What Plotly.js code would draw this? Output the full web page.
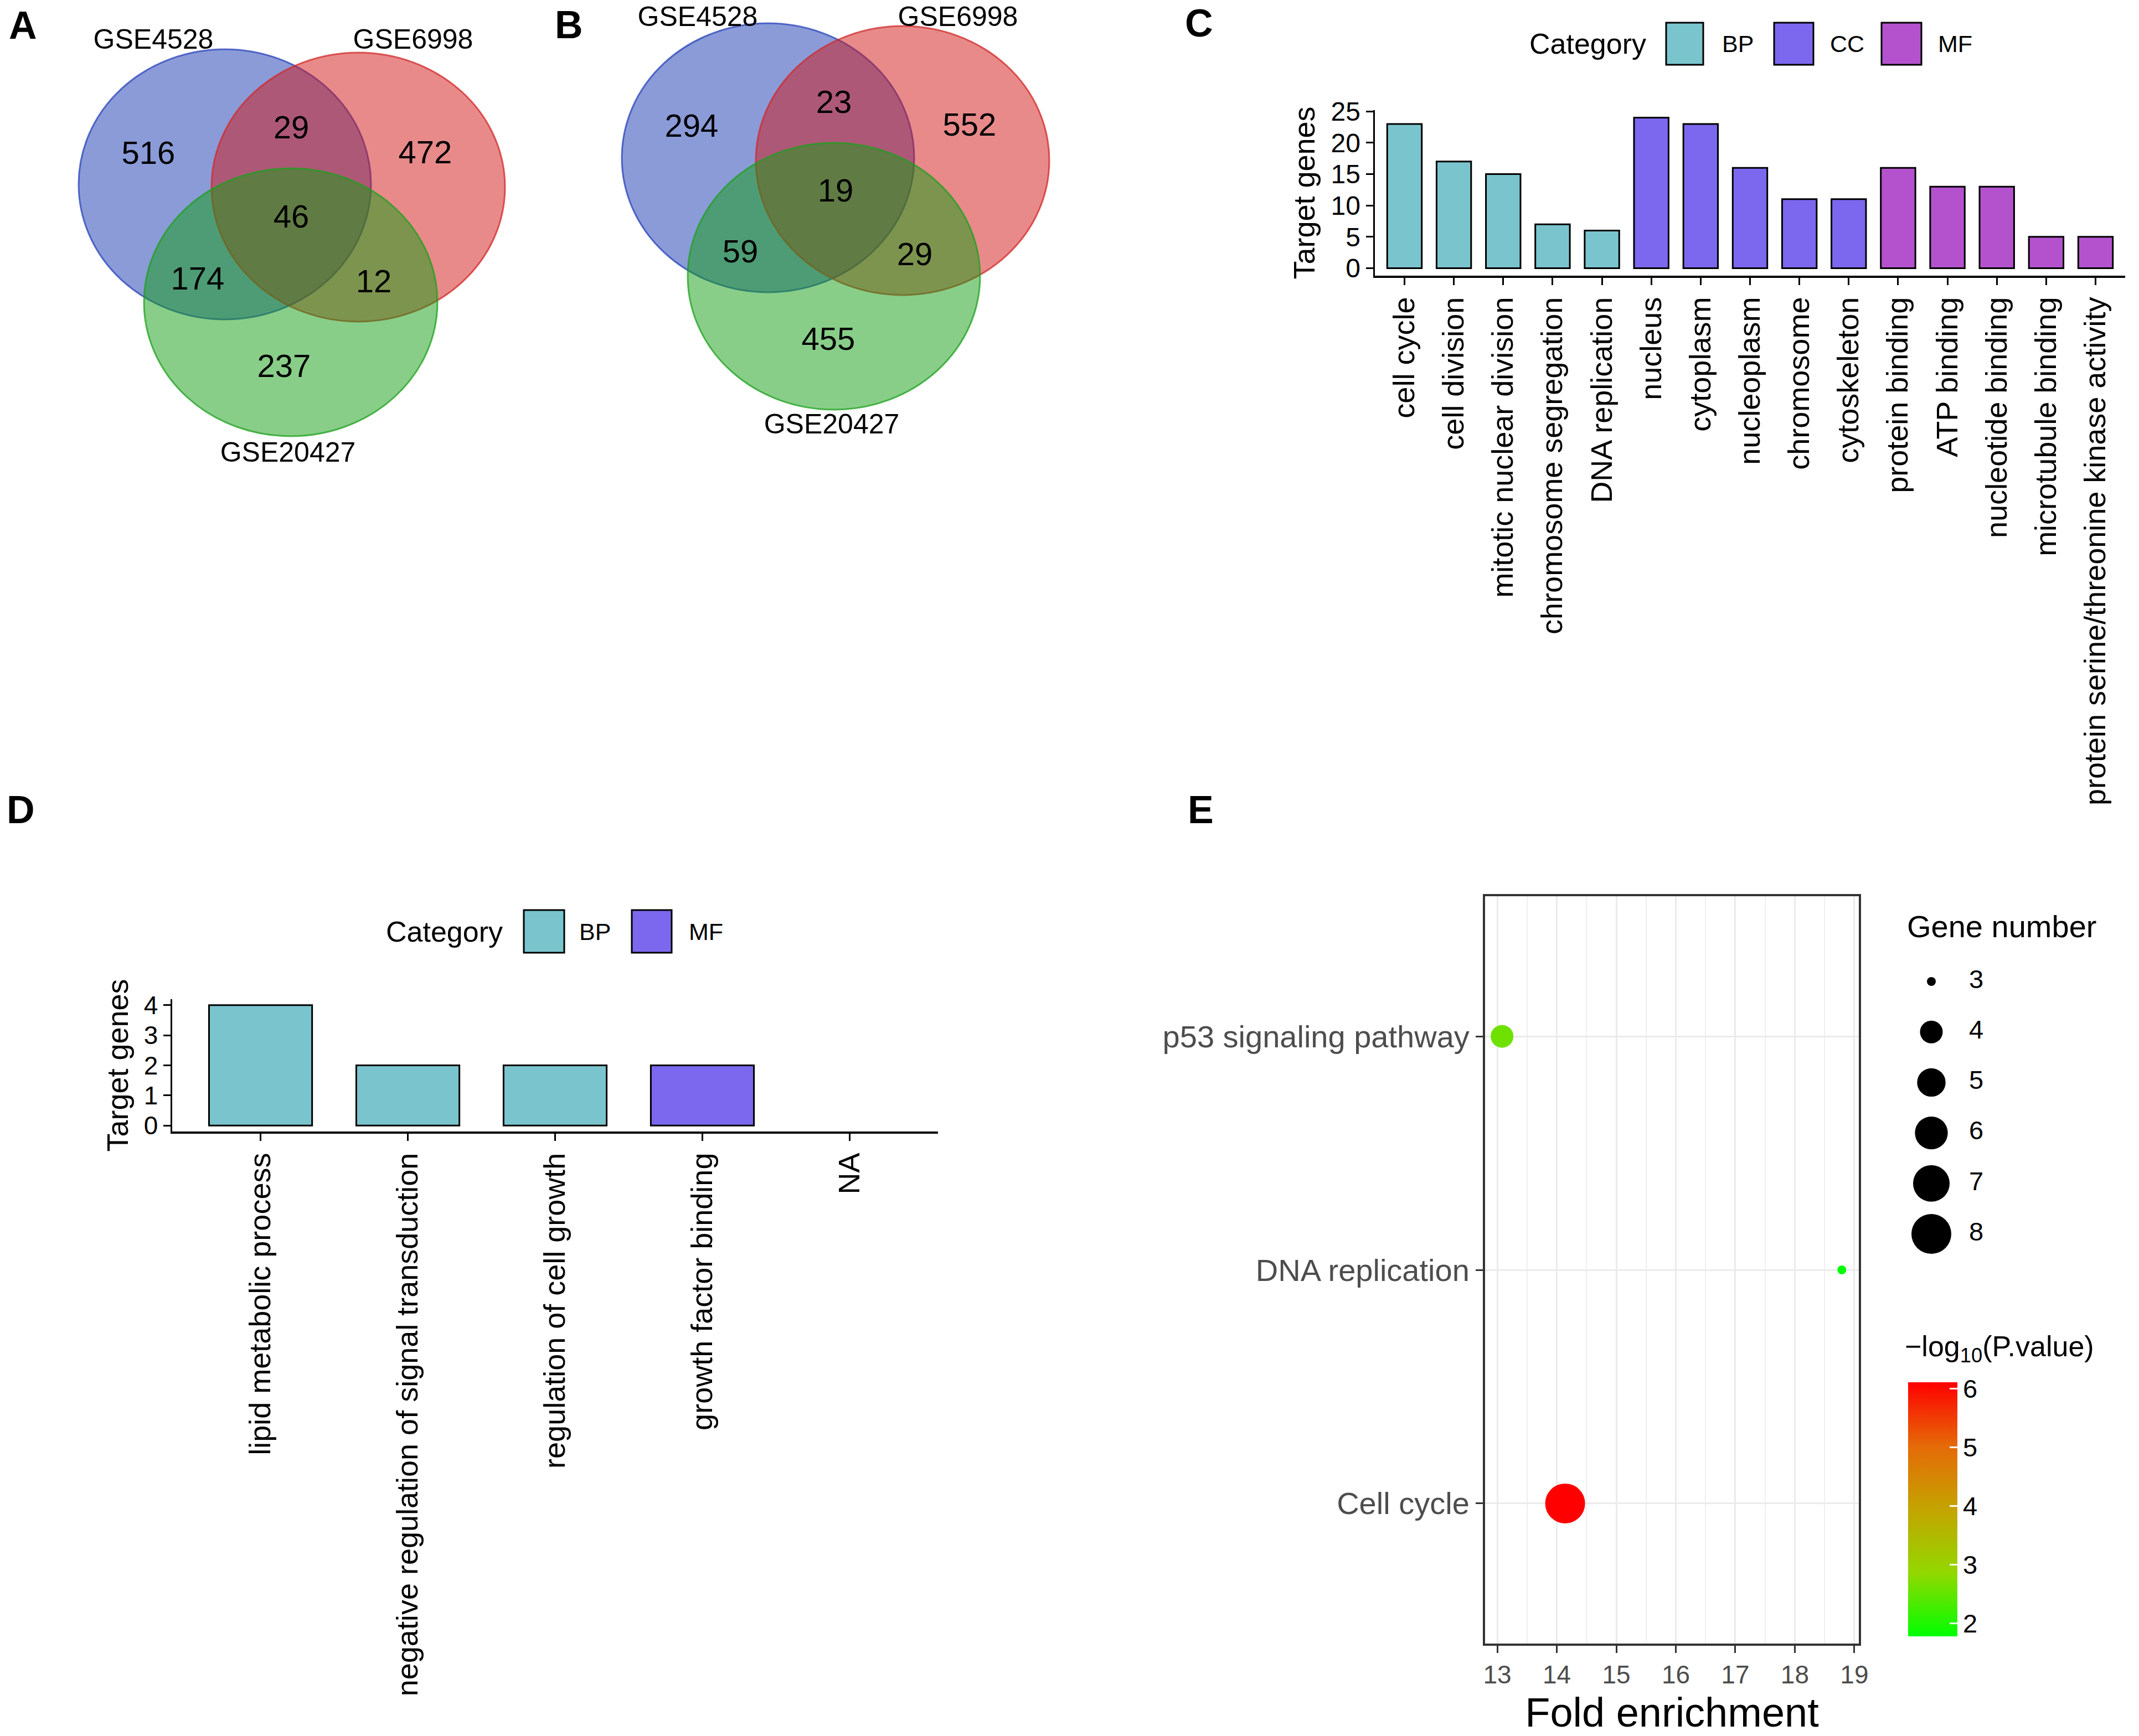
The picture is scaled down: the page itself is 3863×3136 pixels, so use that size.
<!DOCTYPE html>
<html>
<head>
<meta charset="utf-8">
<script src="https://cdn.plot.ly/plotly-3.0.1.min.js"></script>
<style>
html,body{margin:0;padding:0;background:#ffffff;}
#chart{width:3863px;height:3136px;}
</style>
</head>
<body>
<div id="chart"></div>
<script>
// ---------------- DATA ----------------
// Venn diagrams: region counts, order = [only set1, only set2, only set3, 1&2, 1&3, 2&3, 1&2&3]
const setNames = ['GSE4528', 'GSE6998', 'GSE20427'];
const vennACounts = [516, 472, 237, 29, 174, 12, 46];
const vennBCounts = [294, 552, 455, 23, 59, 29, 19];

// Panel C: GO terms
const goTerms = ['cell cycle', 'cell division', 'mitotic nuclear division', 'chromosome segregation',
  'DNA replication', 'nucleus', 'cytoplasm', 'nucleoplasm', 'chromosome', 'cytoskeleton',
  'protein binding', 'ATP binding', 'nucleotide binding', 'microtubule binding',
  'protein serine/threonine kinase activity'];
const goCounts = [23, 17, 15, 7, 6, 24, 23, 16, 11, 11, 16, 13, 13, 5, 5];
const goCategory = ['BP', 'BP', 'BP', 'BP', 'BP', 'CC', 'CC', 'CC', 'CC', 'CC', 'MF', 'MF', 'MF', 'MF', 'MF'];

// Panel D: GO terms
const dTerms = ['lipid metabolic process', 'negative regulation of signal transduction',
  'regulation of cell growth', 'growth factor binding', 'NA'];
const dCounts = [4, 2, 2, 2, null];
const dCategory = ['BP', 'BP', 'BP', 'MF', null];

// Panel E: KEGG pathways
const keggTerms = ['Cell cycle', 'DNA replication', 'p53 signaling pathway'];
const keggFold = [14.14, 18.79, 13.08];
const keggGenes = [8, 3, 4];
const keggLogP = [6.11, 1.78, 2.6];
const sizeBreaks = [3, 4, 5, 6, 7, 8];
const colorTicks = [2, 3, 4, 5, 6];

// ---------------- STYLE / LAYOUT ----------------
const W = 3863, H = 3136;
const FONT = '"Liberation Sans", Arial, Helvetica, sans-serif';
const palette = ['#7AC5CD', '#7B68EE', '#B452CD'];
const dx = (a, b) => [a / W, b / W];
const dy = (top, bottom) => [1 - bottom / H, 1 - top / H];
const px = x => x / W;
const py = y => 1 - y / H;

function levels(arr) { const out = []; arr.forEach(v => { if (v !== null && out.indexOf(v) < 0) out.push(v); }); return out; }
const cLevels = levels(goCategory);
const dLevels = levels(dCategory);
const colorOf = (lv, c) => c === null ? 'rgba(0,0,0,0)' : palette[lv.indexOf(c)];

// size scale (area palette like ggplot2)
const dMin = 16, dMax = 72;
const gMin = Math.min(...keggGenes), gMax = Math.max(...keggGenes);
const sizeScale = n => dMin + Math.sqrt((n - gMin) / (gMax - gMin)) * (dMax - dMin);

// Venn geometry (layout)
const vennGeom = {
  A: {
    circles: [[406, 333, 264, 244], [647, 338, 265, 243], [525, 546, 265, 242]],
    regions: [[268, 281], [768, 280], [513, 666], [526, 235], [357, 508], [675, 513], [526, 396]],
    names: [[277, 75], [746, 75], [520, 821]]
  },
  B: {
    circles: [[1387, 285, 264, 243], [1630, 290, 265, 243], [1506, 499, 264, 241]],
    regions: [[1249, 232], [1751, 230], [1496, 617], [1506, 189], [1337, 459], [1652, 464], [1509, 349]],
    names: [[1260, 34], [1730, 34], [1502, 770]]
  }
};
const vennFill = ['rgba(21,55,177,0.5)', 'rgba(209,21,21,0.5)', 'rgba(17,157,17,0.5)'];
const vennLine = ['rgba(40,65,185,0.75)', 'rgba(210,40,40,0.75)', 'rgba(30,160,30,0.75)'];

const traces = [];

// Panel C bars
traces.push({
  type: 'bar', x: goTerms, y: goCounts, width: 0.7,
  marker: { color: goCategory.map(c => colorOf(cLevels, c)), line: { color: '#000', width: 3 } },
  xaxis: 'x', yaxis: 'y', showlegend: false, hoverinfo: 'skip'
});
// Panel D bars
traces.push({
  type: 'bar', x: dTerms, y: dCounts, width: 0.7,
  marker: { color: dCategory.map(c => colorOf(dLevels, c)), line: { color: '#000', width: 3 } },
  xaxis: 'x2', yaxis: 'y2', showlegend: false, hoverinfo: 'skip'
});
// Panel E bubbles
const cMin = Math.min(...keggLogP), cMax = Math.max(...keggLogP);
traces.push({
  type: 'scatter', mode: 'markers', x: keggFold, y: keggTerms,
  marker: {
    size: keggGenes.map(sizeScale), color: keggLogP, cmin: cMin, cmax: cMax,
    colorscale: [[0, '#00FF00'], [0.25, '#93D800'], [0.5, '#C4A400'], [0.75, '#E56A08'], [1, '#FF0000']],
    line: { width: 0 }, opacity: 1, showscale: true,
    colorbar: {
      x: px(3446), xanchor: 'left', xref: 'paper', y: py(2497), yanchor: 'top', yref: 'paper',
      len: (2956 - 2497) / H, lenmode: 'fraction', thickness: 89, thicknessmode: 'pixels',
      xpad: 0, ypad: 0, outlinewidth: 0, tickvals: colorTicks,
      ticks: 'inside', ticklen: 14, tickwidth: 3, tickcolor: '#FFFFFF',
      tickfont: { family: FONT, size: 47, color: '#000' }
    }
  },
  xaxis: 'x3', yaxis: 'y3', showlegend: false, hoverinfo: 'skip', cliponaxis: false
});
// Size legend
traces.push({
  type: 'scatter', mode: 'markers', x: sizeBreaks.map(() => 48), y: sizeBreaks,
  marker: { size: sizeBreaks.map(sizeScale), color: '#000000', opacity: 1, line: { width: 0 } },
  xaxis: 'x4', yaxis: 'y4', showlegend: false, hoverinfo: 'skip', cliponaxis: false
});
traces.push({
  type: 'scatter', mode: 'text', x: sizeBreaks.map(() => 116), y: sizeBreaks,
  text: sizeBreaks.map(String), textposition: 'middle right',
  textfont: { family: FONT, size: 47, color: '#000' },
  xaxis: 'x4', yaxis: 'y4', showlegend: false, hoverinfo: 'skip', cliponaxis: false
});
// Venn counts and set names
[['A', vennACounts], ['B', vennBCounts]].forEach(([k, counts]) => {
  const g = vennGeom[k];
  traces.push({
    type: 'scatter', mode: 'text', x: g.regions.map(p => p[0]), y: g.regions.map(p => p[1]),
    text: counts.map(String), textposition: 'middle center',
    textfont: { family: FONT, size: 58, color: '#000' },
    xaxis: 'x5', yaxis: 'y5', showlegend: false, hoverinfo: 'skip', cliponaxis: false
  });
  traces.push({
    type: 'scatter', mode: 'text', x: g.names.map(p => p[0]), y: g.names.map(p => p[1]),
    text: setNames, textposition: 'middle center',
    textfont: { family: FONT, size: 50, color: '#000' },
    xaxis: 'x5', yaxis: 'y5', showlegend: false, hoverinfo: 'skip', cliponaxis: false
  });
});

// Shapes
const shapes = [];
['A', 'B'].forEach(k => {
  vennGeom[k].circles.forEach((c, i) => {
    shapes.push({
      type: 'circle', xref: 'x5', yref: 'y5', layer: 'below',
      x0: c[0] - c[2], x1: c[0] + c[2], y0: c[1] - c[3], y1: c[1] + c[3],
      fillcolor: vennFill[i], line: { color: vennLine[i], width: 3 }
    });
  });
});
// custom category legends
const legendBoxes = [
  { lv: cLevels, boxes: [[3009, 3076], [3204, 3275], [3398, 3470]], textX: [3108, 3303, 3498], y: [41, 117], titleRight: 2975 },
  { lv: dLevels, boxes: [[946, 1019], [1141, 1213]], textX: [1044, 1242], y: [1644, 1721], titleRight: 910 }
];
const annotations = [];
legendBoxes.forEach(L => {
  L.lv.forEach((lv, i) => {
    shapes.push({
      type: 'rect', xref: 'paper', yref: 'paper',
      x0: px(L.boxes[i][0]), x1: px(L.boxes[i][1]), y0: py(L.y[1]), y1: py(L.y[0]),
      fillcolor: palette[i], line: { color: '#000', width: 3 }
    });
    annotations.push({
      text: lv, x: px(L.textX[i]), y: py((L.y[0] + L.y[1]) / 2), xref: 'paper', yref: 'paper',
      xanchor: 'left', yanchor: 'middle', showarrow: false, font: { family: FONT, size: 43, color: '#000' }
    });
  });
  annotations.push({
    text: 'Category', x: px(L.titleRight), y: py((L.y[0] + L.y[1]) / 2), xref: 'paper', yref: 'paper',
    xanchor: 'right', yanchor: 'middle', showarrow: false, font: { family: FONT, size: 52, color: '#000' }
  });
});
// Gene number legend title
annotations.push({
  text: 'Gene number', x: px(3442), y: py(1673), xref: 'paper', yref: 'paper',
  xanchor: 'left', yanchor: 'middle', showarrow: false, font: { family: FONT, size: 56, color: '#000' }
});
// Colour bar title
annotations.push({
  text: '\u2212log<sub>10</sub>(P.value)', x: px(3438), y: py(2436), xref: 'paper', yref: 'paper',
  xanchor: 'left', yanchor: 'middle', showarrow: false, font: { family: FONT, size: 52, color: '#000' }
});
// Panel letters
[['A', 41, 46], ['B', 1027, 45], ['C', 2165, 42], ['D', 37, 1463], ['E', 2168, 1463]].forEach(([t, x, y]) => {
  annotations.push({
    text: '<b>' + t + '</b>', x: px(x), y: py(y), xref: 'paper', yref: 'paper',
    xanchor: 'center', yanchor: 'middle', showarrow: false, font: { family: FONT, size: 70, color: '#000' }
  });
});

// axis helpers
const classicX = (dom, anchor, cats) => ({
  domain: dom, anchor: anchor, type: 'category', categoryorder: 'array', categoryarray: cats,
  range: [-0.6, cats.length - 0.4], tickangle: -90, ticks: 'outside', ticklen: 13, tickwidth: 3,
  tickcolor: '#000', showline: true, linecolor: '#000', linewidth: 4, showgrid: false, zeroline: false,
  tickfont: { family: FONT, size: 54, color: '#000' }, fixedrange: true
});
const classicY = (dom, anchor, range, tv, tfs) => ({
  domain: dom, anchor: anchor, range: range, tickvals: tv, ticks: 'outside', ticklen: 13, tickwidth: 3,
  tickcolor: '#000', showline: true, linecolor: '#000', linewidth: 3.5, showgrid: false, zeroline: false,
  tickfont: { family: FONT, size: tfs, color: '#000' }, fixedrange: true,
  title: { text: 'Target genes', font: { family: FONT, size: 54, color: '#000' }, standoff: 12 }
});

const cMaxY = Math.max(...goCounts), dMaxY = Math.max(...dCounts.filter(v => v !== null));
const fSpan = Math.max(...keggFold) - Math.min(...keggFold);
const fRange = [Math.min(...keggFold) - 0.05 * fSpan, Math.max(...keggFold) + 0.05 * fSpan];

const layout = {
  width: W, height: H, margin: { l: 0, r: 0, t: 0, b: 0, pad: 0 },
  paper_bgcolor: '#ffffff', plot_bgcolor: 'rgba(0,0,0,0)', showlegend: false,
  font: { family: FONT, color: '#000' },
  xaxis: classicX(dx(2483, 3838), 'y', goTerms),
  yaxis: classicY(dy(199, 498), 'x', [-0.05 * cMaxY, 1.05 * cMaxY], [0, 5, 10, 15, 20, 25], 48),
  xaxis2: classicX(dx(311, 1694), 'y2', dTerms),
  yaxis2: classicY(dy(1805, 2044), 'x2', [-0.05 * dMaxY, 1.05 * dMaxY], [0, 1, 2, 3, 4], 46),
  xaxis3: {
    domain: dx(2682, 3357), anchor: 'y3', range: fRange, tick0: 13, dtick: 1,
    ticks: 'outside', ticklen: 13, tickwidth: 3, tickcolor: '#333333',
    showline: true, mirror: true, linecolor: '#333333', linewidth: 4,
    showgrid: true, gridcolor: '#EBEBEB', gridwidth: 3, zeroline: false,
    minor: { tick0: 12.5, dtick: 0.5, showgrid: true, gridcolor: '#EFEFEF', gridwidth: 2, ticks: '' },
    tickfont: { family: FONT, size: 46, color: '#4D4D4D' },
    title: { text: 'Fold enrichment', font: { family: FONT, size: 74, color: '#000' }, standoff: 18 },
    fixedrange: true
  },
  yaxis3: {
    domain: dy(1619, 2969), anchor: 'x3', type: 'category', categoryorder: 'array', categoryarray: keggTerms,
    range: [-0.6, keggTerms.length - 0.4], ticks: 'outside', ticklen: 13, tickwidth: 3, tickcolor: '#333333',
    showline: true, mirror: true, linecolor: '#333333', linewidth: 4,
    showgrid: true, gridcolor: '#EBEBEB', gridwidth: 3, zeroline: false,
    tickfont: { family: FONT, size: 56, color: '#4D4D4D' }, fixedrange: true
  },
  xaxis4: { domain: dx(3440, 3640), anchor: 'y4', range: [0, 200], visible: false, fixedrange: true },
  yaxis4: { domain: dy(1700, 2300), anchor: 'x4', range: [3 + 527 / 91.2, 3 - 73 / 91.2], visible: false, fixedrange: true },
  xaxis5: { domain: [0, 1], anchor: 'y5', range: [0, W], visible: false, fixedrange: true },
  yaxis5: { domain: [0, 1], anchor: 'x5', range: [H, 0], visible: false, fixedrange: true },
  shapes: shapes,
  annotations: annotations
};

Plotly.newPlot('chart', traces, layout, { staticPlot: true, displayModeBar: false });
</script>
</body>
</html>
